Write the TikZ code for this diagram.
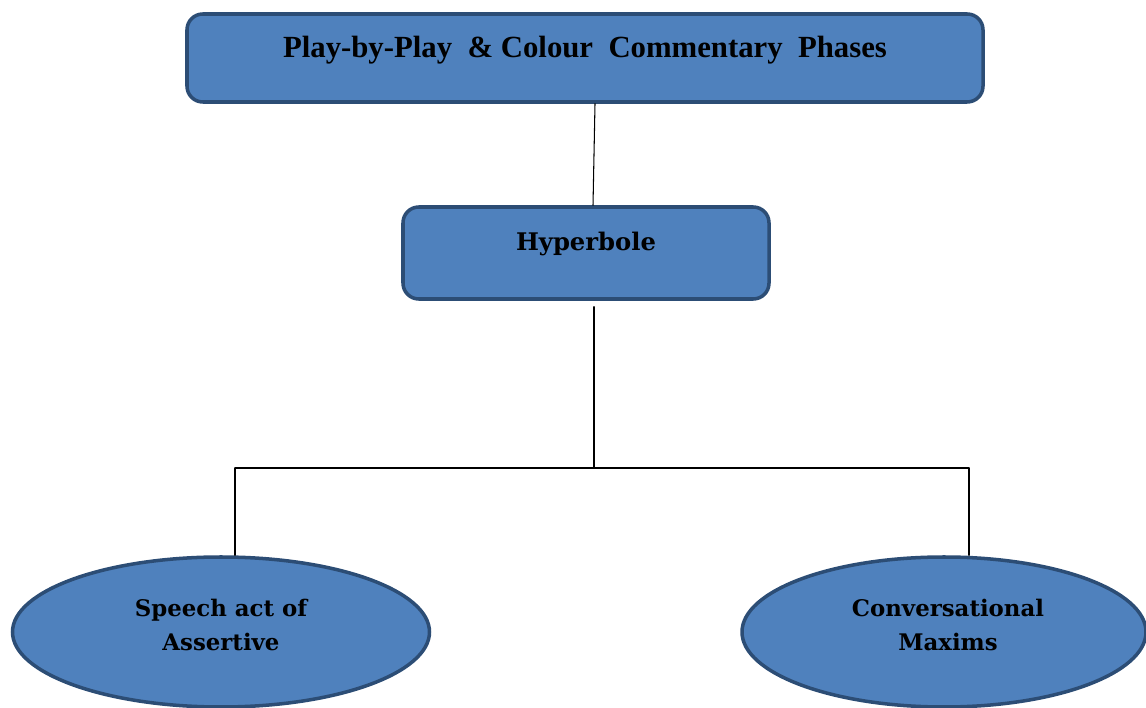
\documentclass[tikz,border=0pt]{standalone}
\usepackage{fontspec}
\setmainfont{Liberation Serif}
\newfontfamily\ellfont{DejaVu Serif}
\usetikzlibrary{shapes.geometric}
\definecolor{boxblue}{HTML}{4F81BD}
\definecolor{boxline}{HTML}{2C4D75}
\tikzset{
  phasebox/.style={draw=boxline,line width=2pt,fill=boxblue,rounded corners=9pt,inner sep=0pt},
  termell/.style={ellipse,draw=boxline,line width=2pt,fill=boxblue,inner sep=0pt},
  boxtext/.style={font=\bfseries\fontsize{17.5}{20}\selectfont},
  hyptext/.style={font=\ellfont\bfseries\fontsize{13.8}{17}\selectfont},
  elltext/.style={font=\ellfont\bfseries\fontsize{13}{19}\selectfont,align=center},
}
\begin{document}
\begin{tikzpicture}[line cap=round,line join=round]
  \useasboundingbox (0,0) rectangle (22.92,14.14);
  % boxes
  \node[phasebox,minimum width=15.92cm,minimum height=1.76cm] (phases) at (11.70,12.98) {};
  \node[boxtext] (phasestxt) at (11.70,13.14) {Play-by-Play \ \& Colour \ Commentary \ Phases};
  \node[phasebox,minimum width=7.32cm,minimum height=1.84cm] (hyper) at (11.72,9.08) {};
  \node[hyptext] (hypertxt) at (11.72,9.26) {Hyperbole};
  % ellipses
  \node[termell,minimum width=8.34cm,minimum height=3.0cm] (speech) at (4.42,1.50) {};
  \node[elltext] (speechtxt) at (4.42,1.64) {Speech act of\\Assertive};
  \node[termell,minimum width=8.08cm,minimum height=3.0cm] (maxims) at (18.88,1.50) {};
  \node[elltext] (maximstxt) at (18.96,1.64) {Conversational\\Maxims};
  % connectors
  \coordinate (split) at (11.88,4.78);
  \coordinate (leftend) at (4.70,4.78);
  \coordinate (rightend) at (19.38,4.78);
  \draw[line width=0.6pt] ([xshift=0.20cm]phases.south) -- ([xshift=0.14cm]hyper.north);
  \draw[line width=0.6pt] ([xshift=0.16cm,yshift=-0.12cm]hyper.south) -- (split);
  \draw[line width=0.6pt] (leftend) -- (rightend);
  \draw[line width=0.6pt] (leftend) -- (leftend |- speech.north);
  \draw[line width=0.6pt] (rightend) -- (rightend |- maxims.north);
\end{tikzpicture}
\end{document}
